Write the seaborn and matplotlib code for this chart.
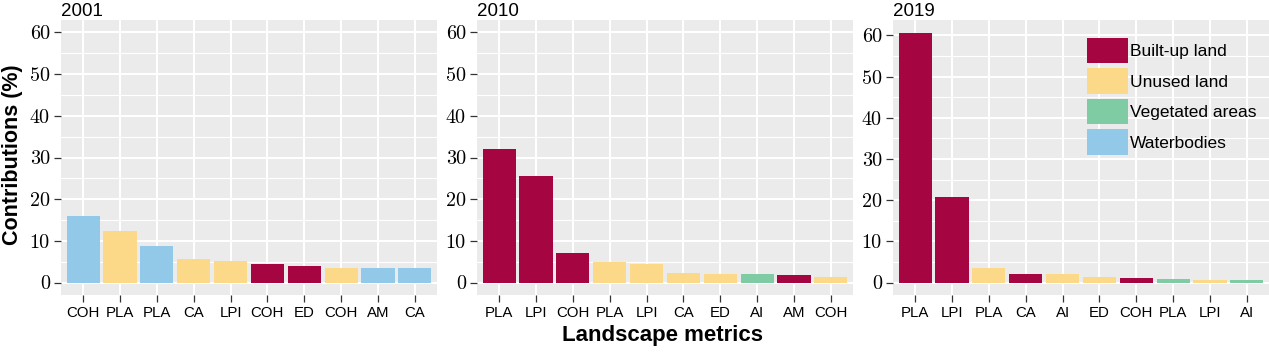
import numpy as np
import pandas as pd
import matplotlib
matplotlib.use("Agg")
import matplotlib.pyplot as plt
import matplotlib.patches as mpatches
import seaborn as sns

# ================= DATA =================
years = ["2001", "2010", "2019"]

metrics_2001 = ["COH", "PLA", "PLA", "CA", "LPI", "COH", "ED", "COH", "AM", "CA"]
values_2001 = [16.0, 12.3, 8.7, 5.6, 5.05, 4.5, 3.9, 3.6, 3.6, 3.4]
types_2001 = ["Waterbodies", "Unused land", "Waterbodies", "Unused land", "Unused land",
              "Built-up land", "Built-up land", "Unused land", "Waterbodies", "Waterbodies"]

metrics_2010 = ["PLA", "LPI", "COH", "PLA", "LPI", "CA", "ED", "AI", "AM", "COH"]
values_2010 = [32.0, 25.5, 7.2, 5.0, 4.4, 2.4, 2.0, 2.0, 1.8, 1.4]
types_2010 = ["Built-up land", "Built-up land", "Built-up land", "Unused land", "Unused land",
              "Unused land", "Unused land", "Vegetated areas", "Built-up land", "Unused land"]

metrics_2019 = ["PLA", "LPI", "PLA", "CA", "AI", "ED", "COH", "PLA", "LPI", "AI"]
values_2019 = [60.7, 20.8, 3.4, 2.0, 2.0, 1.3, 1.05, 0.9, 0.7, 0.7]
types_2019 = ["Built-up land", "Built-up land", "Unused land", "Built-up land", "Unused land",
              "Unused land", "Built-up land", "Vegetated areas", "Unused land", "Vegetated areas"]

land_types = ["Built-up land", "Unused land", "Vegetated areas", "Waterbodies"]
palette = {"Built-up land": "#A50642", "Unused land": "#FBD988",
           "Vegetated areas": "#7FCBA4", "Waterbodies": "#92C8E8"}

panels = [(metrics_2001, values_2001, types_2001),
          (metrics_2010, values_2010, types_2010),
          (metrics_2019, values_2019, types_2019)]

# ================= FIGURE =================
W, H = 1269, 352
fig = plt.figure(figsize=(W / 100, H / 100), dpi=100)

left_px = [61, 477, 893]
ax_w, top_px, bot_px = 376, 20, 295
ymax_list = [60, 60, 60.7]

for i, (mets, vals, typs) in enumerate(panels):
    ax = fig.add_axes([left_px[i] / W, (H - bot_px) / H, ax_w / W, (bot_px - top_px) / H])
    df = pd.DataFrame({"pos": list(range(len(vals))), "value": vals, "type": typs})
    sns.barplot(data=df, x="pos", y="value", hue="type", palette=palette,
                dodge=False, width=0.9, legend=False, ax=ax, saturation=1)
    ax.set_facecolor("#EBEBEB")
    for s in ax.spines.values():
        s.set_visible(False)
    ymax = ymax_list[i]
    ax.set_ylim(-0.05 * ymax, 1.05 * ymax)
    ax.set_xlim(-0.6, len(vals) - 0.4)
    ax.set_yticks([0, 10, 20, 30, 40, 50, 60])
    ax.set_yticks([5, 15, 25, 35, 45, 55], minor=True)
    ax.set_yticklabels(["0", "10", "20", "30", "40", "50", "60"], fontfamily="cmr10", fontsize=14.5)
    ax.set_xticks(range(len(vals)))
    ax.set_xticklabels(mets, fontfamily="Liberation Sans", fontsize=10.8, color="black")
    ax.grid(which="major", color="white", lw=1.5)
    ax.grid(which="minor", axis="y", color="white", lw=0.8)
    ax.set_axisbelow(True)
    ax.tick_params(axis="both", which="major", length=5, width=0.9, color="#333333", pad=3)
    ax.tick_params(axis="y", which="minor", length=0)
    ax.set_xlabel("")
    ax.set_ylabel("")
    ax.set_title(years[i], loc="left", fontfamily="Liberation Sans", fontsize=13.5, pad=2)

    if i == 2:
        handles = [mpatches.Patch(facecolor=palette[t], label=t) for t in land_types]
        ax.legend(handles=handles, loc="upper right", bbox_to_anchor=(1.0, 0.98),
                  frameon=False, prop={"family": "Liberation Sans", "size": 12.5},
                  handlelength=2.35, handleheight=1.9, handletextpad=0.15,
                  labelspacing=0.28, borderaxespad=0.3)

fig.text(12.5 / W, 1 - 155 / H, "Contributions (%)", rotation=90, ha="center", va="center",
         fontfamily="Liberation Sans", fontweight="bold", fontsize=15.5)
fig.text(663 / W, 1 - 335 / H, "Landscape metrics", ha="center", va="center",
         fontfamily="Liberation Sans", fontweight="bold", fontsize=16)

fig.savefig("out.png", dpi=100)
